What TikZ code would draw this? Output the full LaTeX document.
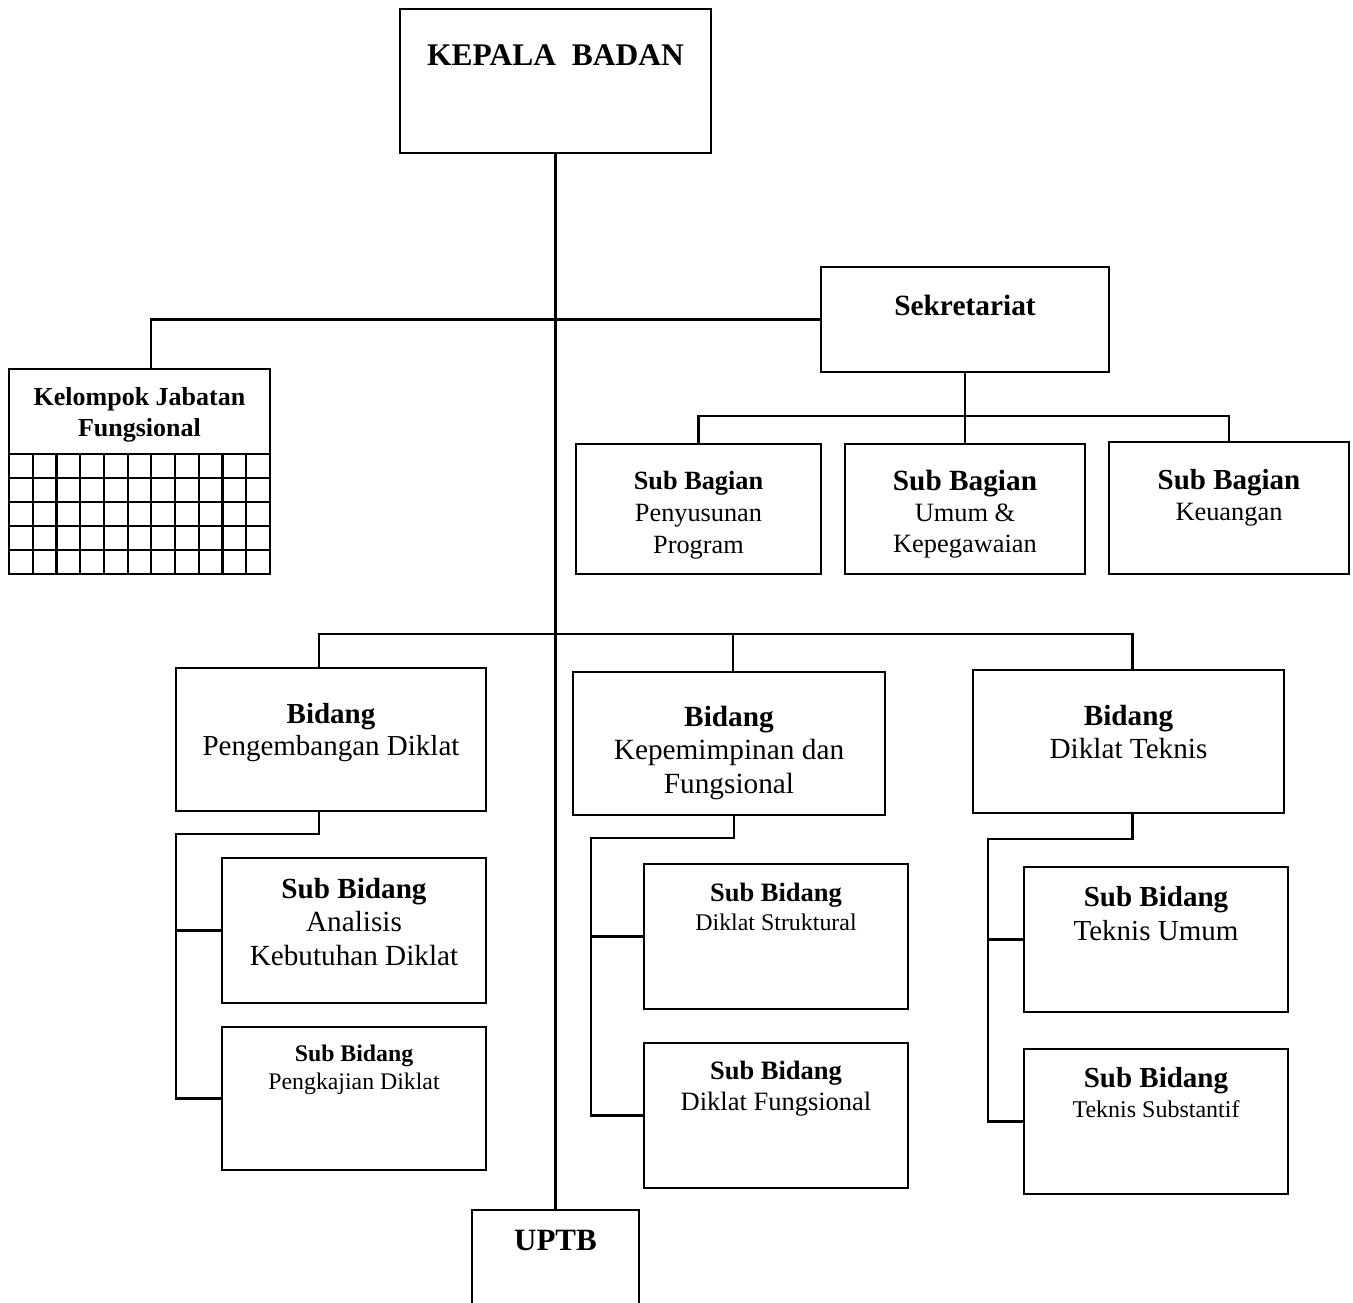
\documentclass[tikz,border=0pt]{standalone}
\usepackage{fontspec}
\setmainfont{Liberation Serif}

\newcommand{\fs}[2]{\fontsize{#1}{#2}\selectfont}

\tikzset{
  unit/.style={draw, line width=2.4pt, inner sep=0pt},
  lbl/.style={align=center, inner sep=0pt},
  link/.style={line width=2.2pt},
}

\begin{document}
\begin{tikzpicture}[x=1pt, y=-1pt]
    \useasboundingbox (0,0) rectangle (1353,1303);
    \clip (0,0) rectangle (1353,1303);

    % top
    \node[unit, minimum width=311, minimum height=144] (kb) at (555.5,81) {};
    \node[lbl, font=\fs{31.5}{36}\bfseries] (kbt) at (555.5,55) {KEPALA\ \ BADAN};

    \node[unit, minimum width=288, minimum height=105] (sek) at (965,319.5) {};
    \node[lbl, font=\fs{29.4}{33}\bfseries] (sekt) at (965,305) {Sekretariat};

    % kelompok jabatan fungsional
    \node[unit, minimum width=261, minimum height=205] (kjf) at (139.5,471.5) {};
    \node[lbl, font=\fs{26}{31}\bfseries] (kjft) at (139.5,415) {Kelompok Jabatan\\Fungsional};
    \foreach \i in {1,...,10}
        \draw[link] ({9+\i*23.727},454) -- ({9+\i*23.727},574);
    \foreach \j in {0,...,4}
        \draw[link] (9,{454+\j*24}) -- (270,{454+\j*24});

    % sub bagian
    \node[unit, minimum width=245, minimum height=130] (pp) at (698.5,509) {};
    \node[lbl, font=\fs{26.3}{32}] (ppt) at (698.5,515) {\textbf{Sub Bagian}\\Penyusunan\\Program};

    \node[unit, minimum width=240, minimum height=130] (uk) at (965,509) {};
    \node[lbl, font=\fs{26.4}{31}] (ukt) at (965,514) {{\fs{29.3}{31}\bfseries Sub Bagian}\\Umum \&\\Kepegawaian};

    \node[unit, minimum width=240, minimum height=132] (keu) at (1229,508) {};
    \node[lbl, font=\fs{26.4}{31}] (keut) at (1229,498) {{\fs{29}{31}\bfseries Sub Bagian}\\Keuangan};

    % bidang
    \node[unit, minimum width=310, minimum height=143] (pd) at (331,739.5) {};
    \node[lbl, font=\fs{29}{32}] (pdt) at (331,733) {\textbf{Bidang}\\Pengembangan Diklat};

    \node[unit, minimum width=312, minimum height=143] (kf) at (729,743.5) {};
    \node[lbl, font=\fs{29.3}{33.5}] (kft) at (729,752.5) {\textbf{Bidang}\\Kepemimpinan dan\\Fungsional};

    \node[unit, minimum width=311, minimum height=143] (dt) at (1128.5,741.5) {};
    \node[lbl, font=\fs{29.2}{33}] (dtt) at (1128.5,732) {\textbf{Bidang}\\Diklat Teknis};

    % sub bidang
    \node[unit, minimum width=264, minimum height=145] (akd) at (354,930.5) {};
    \node[lbl, font=\fs{29.2}{33.5}] (akdt) at (354,922) {\textbf{Sub Bidang}\\Analisis\\Kebutuhan Diklat};

    \node[unit, minimum width=264, minimum height=143] (pkj) at (354,1098.5) {};
    \node[lbl, font=\fs{23.8}{28}] (pkjt) at (354,1070) {\textbf{Sub Bidang}\\Pengkajian Diklat};

    \node[unit, minimum width=264, minimum height=145] (ds) at (776,936.5) {};
    \node[lbl, font=\fs{23.9}{29}] (dst) at (776,906.5) {{\fs{26.5}{29}\bfseries Sub Bidang}\\Diklat Struktural};

    \node[unit, minimum width=264, minimum height=145] (df) at (776,1115.5) {};
    \node[lbl, font=\fs{26.5}{31}] (dft) at (776,1089) {\textbf{Sub Bidang}\\Diklat Fungsional};

    \node[unit, minimum width=264, minimum height=145] (tu) at (1156,939.5) {};
    \node[lbl, font=\fs{29}{34}] (tut) at (1156,914) {\textbf{Sub Bidang}\\Teknis Umum};

    \node[unit, minimum width=264, minimum height=145] (ts) at (1156,1121.5) {};
    \node[lbl, font=\fs{24}{30}] (tst) at (1156,1093) {{\fs{29}{30}\bfseries Sub Bidang}\\Teknis Substantif};

    % uptb
    \node[unit, minimum width=167, minimum height=110] (uptb) at (555.5,1265) {};
    \node[lbl, font=\fs{31}{36}\bfseries] (uptbt) at (555.5,1240) {UPTB};

    % lines
    \draw[link] (kb.south) -- (uptb.north);
    \draw[link] (sek.west) -| ([xshift=11.5]kjf.north);

    \coordinate (sekj) at (965,416);
    \draw[link] (sek.south) -- (sekj);
    \foreach \n in {pp,uk,keu}
        \draw[link] (sekj) -| (\n.north);

    \coordinate (bidj) at (555.5,634);
    \draw[link] (bidj) -| ([xshift=-12]pd.north);
    \draw[link] (bidj) -| ([xshift=4]kf.north);
    \draw[link] (bidj) -| ([xshift=4]dt.north);

    \coordinate (pdj) at (176,834);
    \draw[link] ([xshift=-12]pd.south) |- (pdj) |- (pkj.west);
    \draw[link] (akd.west) -- (akd.west -| pdj);

    \coordinate (kfj) at (591,838);
    \draw[link] ([xshift=5]kf.south) |- (kfj) |- (df.west);
    \draw[link] (ds.west) -- (ds.west -| kfj);

    \coordinate (dtj) at (988,839);
    \draw[link] ([xshift=4]dt.south) |- (dtj) |- (ts.west);
    \draw[link] (tu.west) -- (tu.west -| dtj);
\end{tikzpicture}
\end{document}
